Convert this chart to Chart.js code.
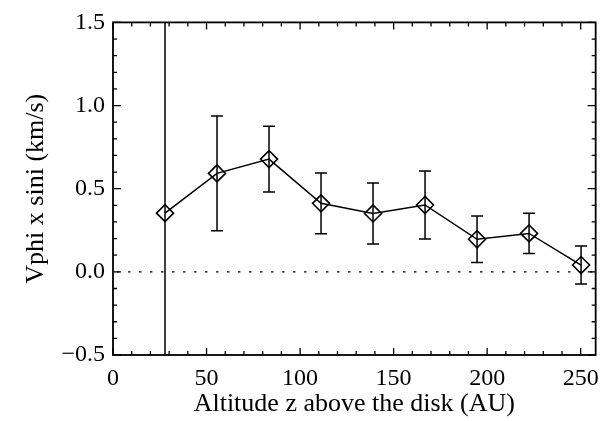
<!DOCTYPE html>
<html>
<head>
<meta charset="utf-8">
<script src="https://cdn.jsdelivr.net/npm/chart.js@4"></script>
<style>
  html, body { margin: 0; padding: 0; background: #fff; }
  #wrap { width: 608px; height: 421px; }
</style>
</head>
<body>
<div id="wrap"><canvas id="chart"></canvas></div>
<script>
// values
var altitudes = [27.8, 55.6, 83.4, 111.2, 139.0, 166.8, 194.6, 222.4, 250.2];
var vphiSini = [0.353, 0.592, 0.678, 0.412, 0.351, 0.402, 0.196, 0.231, 0.041];
var vphiErr = [1.30, 0.345, 0.198, 0.183, 0.183, 0.204, 0.140, 0.121, 0.114];
var xTicks = [0, 50, 100, 150, 200, 250];
var yTicks = [-0.5, 0, 0.5, 1.0, 1.5];
var xRange = [0, 258];
var yRange = [-0.5, 1.5];

var serif = '"Liberation Serif", "DejaVu Serif", serif';

// frame, inward ticks (major + minor), dotted zero line, error bars
var idlFrame = {
    id: 'idlFrame',
    afterDatasetsDraw: function (chart) {
        var ctx = chart.ctx;
        var area = chart.chartArea;
        var xs = chart.scales.x, ys = chart.scales.y;
        ctx.save();

        // zero line
        ctx.strokeStyle = '#000';
        ctx.lineWidth = 1.4;
        ctx.setLineDash([2.5, 8.5]);
        var y0 = ys.getPixelForValue(0);
        ctx.beginPath();
        ctx.moveTo(area.left + 4, y0);
        ctx.lineTo(area.right, y0);
        ctx.stroke();
        ctx.setLineDash([]);

        // error bars
        ctx.save();
        ctx.beginPath();
        ctx.rect(area.left, area.top, area.right - area.left, area.bottom - area.top);
        ctx.clip();
        ctx.lineWidth = 1.5;
        altitudes.forEach(function (a, i) {
            var px = xs.getPixelForValue(a);
            var hi = ys.getPixelForValue(vphiSini[i] + vphiErr[i]);
            var lo = ys.getPixelForValue(vphiSini[i] - vphiErr[i]);
            ctx.beginPath();
            ctx.moveTo(px, hi); ctx.lineTo(px, lo);
            ctx.moveTo(px - 6, hi); ctx.lineTo(px + 6, hi);
            ctx.moveTo(px - 6, lo); ctx.lineTo(px + 6, lo);
            ctx.stroke();
        });
        ctx.restore();

        // ticks
        ctx.lineWidth = 1.3;
        ctx.beginPath();
        for (var v = xRange[0]; v <= xRange[1]; v += 10) {
            var px = xs.getPixelForValue(v);
            var len = (v % 50 === 0) ? 7 : 4;
            ctx.moveTo(px, area.bottom); ctx.lineTo(px, area.bottom - len);
            ctx.moveTo(px, area.top); ctx.lineTo(px, area.top + len);
        }
        for (var k = -5; k <= 15; k++) {
            var py = ys.getPixelForValue(k / 10);
            var len2 = (k % 5 === 0) ? 8 : 4;
            ctx.moveTo(area.left, py); ctx.lineTo(area.left + len2, py);
            ctx.moveTo(area.right, py); ctx.lineTo(area.right - len2, py);
        }
        ctx.stroke();

        // box
        ctx.lineWidth = 1.8;
        ctx.strokeRect(area.left, area.top, area.right - area.left, area.bottom - area.top);
        ctx.restore();
    }
};

new Chart(document.getElementById('chart'), {
    type: 'line',
    data: {
        datasets: [{
            label: 'Vphi x sini',
            data: altitudes.map(function (a, i) { return { x: a, y: vphiSini[i] }; }),
            borderColor: '#000',
            borderWidth: 1.5,
            pointStyle: 'rectRot',
            pointRadius: 8.5,
            pointBorderWidth: 1.6,
            pointBorderColor: '#000',
            pointBackgroundColor: 'rgba(0,0,0,0)',
            tension: 0,
            fill: false
        }]
    },
    options: {
        responsive: true,
        maintainAspectRatio: false,
        animation: false,
        layout: { padding: { top: 10, right: 10, left: 0, bottom: 0 } },
        plugins: { legend: { display: false }, tooltip: { enabled: false } },
        scales: {
            x: {
                type: 'linear',
                min: xRange[0],
                max: xRange[1],
                grid: { display: false, drawTicks: false },
                border: { display: false },
                afterBuildTicks: function (s) { s.ticks = xTicks.map(function (v) { return { value: v }; }); },
                afterFit: function (s) { s.height = 66; },
                ticks: {
                    color: '#000',
                    padding: 9,
                    maxRotation: 0,
                    font: { family: serif, size: 24 }
                },
                title: {
                    display: true,
                    text: 'Altitude z above the disk (AU)',
                    color: '#000',
                    padding: { top: 0, bottom: 1 },
                    font: { family: serif, size: 26 }
                }
            },
            y: {
                type: 'linear',
                min: yRange[0],
                max: yRange[1],
                grid: { display: false, drawTicks: false },
                border: { display: false },
                afterBuildTicks: function (s) { s.ticks = yTicks.map(function (v) { return { value: v }; }); },
                afterFit: function (s) { s.width = 113; },
                ticks: {
                    color: '#000',
                    padding: 8,
                    font: { family: serif, size: 24 },
                    callback: function (v) { return v.toFixed(1).replace('-', '\u2212'); }
                },
                title: {
                    display: true,
                    text: 'Vphi x sini (km/s)',
                    color: '#000',
                    padding: { top: 21, bottom: 0 },
                    font: { family: serif, size: 26 }
                }
            }
        }
    },
    plugins: [idlFrame]
});
</script>
</body>
</html>
